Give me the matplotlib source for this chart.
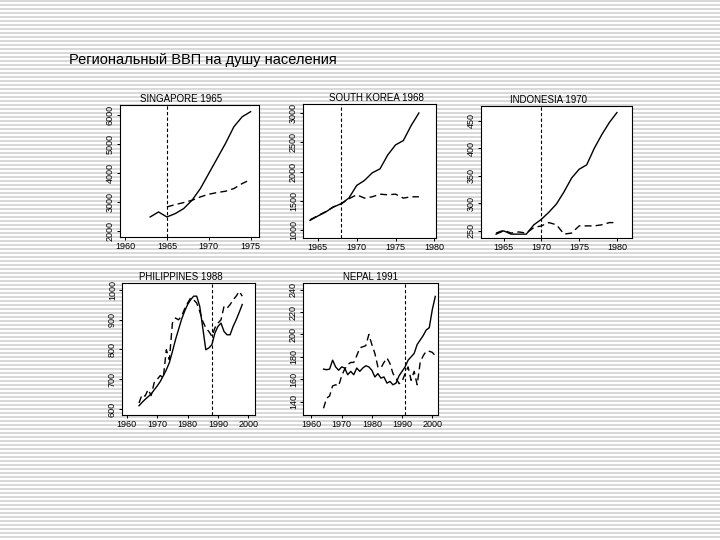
import matplotlib.pyplot as plt
import numpy as np
from matplotlib.patches import Rectangle

plt.rcParams['font.family'] = ['Liberation Sans', 'DejaVu Sans']

#--------------------Data--------------------
title_main = "Региональный ВВП на душу населения"

sg_years = np.arange(1963, 1976)
sg_actual = [2484, 2657, 2484, 2600, 2772, 3060, 3464, 3983, 4501, 5020, 5596, 5942, 6115]
sg_synth_years = np.arange(1965, 1976)
sg_synth = [2830, 2910, 2980, 3060, 3176, 3268, 3326, 3372, 3464, 3637, 3775]

kr_years = np.arange(1964, 1979)
kr_actual = [1170, 1244, 1312, 1397, 1453, 1550, 1765, 1850, 1980, 2048, 2286, 2456, 2530, 2785, 3000]
kr_synth = [1180, 1250, 1318, 1400, 1450, 1538, 1606, 1550, 1572, 1617, 1606, 1617, 1550, 1572, 1572]

id_years = np.arange(1964, 1981)
id_actual = [244, 250, 244, 244, 244, 261, 271, 284, 299, 321, 346, 362, 370, 400, 425, 447, 465]
id_synth = [246, 251, 246, 248, 246, 256, 259, 265, 261, 244, 246, 259, 259, 259, 261, 265, 265]

ph_years = np.arange(1964, 1999)
ph_actual = [612, 623, 633, 642, 651, 665, 678, 693, 712, 732, 756, 793, 832, 866, 900,
             927, 950, 966, 978, 978, 944, 872, 799, 805, 816, 855, 877, 888, 860, 849,
             849, 877, 899, 924, 950]
ph_synth = [621, 649, 644, 666, 646, 689, 700, 713, 705, 799, 766, 888, 905, 899, 911,
            935, 955, 972, 966, 955, 927, 894, 872, 860, 844, 872, 888, 899, 944, 938,
            950, 966, 978, 994, 978]

np_years = np.arange(1964, 2002)
np_actual = [169, 168.5, 169, 177, 171, 168, 171, 170, 164, 167, 164, 170, 167, 170, 172,
             171, 168, 162, 165, 161, 162, 156.5, 158, 155, 156.5, 163, 167, 171, 177, 180,
             183, 191, 195, 199, 204, 206, 222, 234]
np_synth = [134, 143, 145, 154, 155, 154, 163, 169, 173, 175, 175, 181, 188, 189, 190,
            200, 191, 183, 171, 170, 175, 179, 174, 165, 161, 156, 158, 165, 171, 159,
            167, 155, 175, 181, 185, 185, 184, 181]

#====================Layout helpers====================
W, H = 720, 540
fig = plt.figure(figsize=(7.2, 5.4), dpi=100)

# striped slide background
bg = fig.add_axes([0, 0, 1, 1])
bg.set_xlim(0, W)
bg.set_ylim(H, 0)
bg.axis('off')
bg.hlines(np.arange(1, H, 4), 0, W, color='#d6d6d6', linewidth=1.3)
bg.add_patch(Rectangle((48, 30), 634, 477, facecolor='white', edgecolor='none'))

fig.text(69 / W, 1 - 64 / H, title_main, fontsize=10.5, va='baseline', ha='left')


def panel(box, title, title_x, x_act, y_act, x_syn, y_syn, treat, xlim, ylim, xticks, yticks):
    l, r, t, b = box
    ax = fig.add_axes([l / W, 1 - b / H, (r - l) / W, (b - t) / H])
    ax.plot(x_act, y_act, color='black', linewidth=1.0)
    ax.plot(x_syn, y_syn, color='black', linewidth=1.0, linestyle=(0, (5, 3)))
    ax.axvline(treat, color='black', linewidth=0.8, linestyle=(0, (3, 2)))
    ax.set_xlim(*xlim)
    ax.set_ylim(*ylim)
    ax.set_xticks(xticks)
    ax.set_yticks(yticks)
    ax.set_yticklabels([str(v) for v in yticks], rotation=90, va='center')
    ax.tick_params(axis='both', direction='out', length=2.5, width=0.7,
                   labelsize=6.5, pad=1.2)
    for s in ax.spines.values():
        s.set_linewidth(0.8)
    ax.set_title(title, fontsize=7, pad=2, x=title_x)
    return ax


panel((120, 259, 105, 237), "SINGAPORE 1965", 0.44, sg_years, sg_actual, sg_synth_years, sg_synth,
      1965, (1959.4, 1976.0), (1793, 6346), [1960, 1965, 1970, 1975],
      [2000, 3000, 4000, 5000, 6000])

panel((303, 436, 104, 238), "SOUTH KOREA 1968", 0.55, kr_years, kr_actual, kr_years, kr_synth,
      1968, (1963.1, 1980.2), (870, 3153), [1965, 1970, 1975, 1980],
      [1000, 1500, 2000, 2500, 3000])

panel((481, 632, 106, 238), "INDONESIA 1970", 0.45, id_years, id_actual, id_years, id_synth,
      1970, (1962.0, 1982.0), (237, 477), [1965, 1970, 1975, 1980],
      [250, 300, 350, 400, 450])

panel((122, 255, 283, 415), "PHILIPPINES 1988", 0.44, ph_years, ph_actual, ph_years, ph_synth,
      1988, (1958.4, 2002.2), (581, 1022), [1960, 1970, 1980, 1990, 2000],
      [600, 700, 800, 900, 1000])

panel((303, 438, 283, 415), "NEPAL 1991", 0.5, np_years, np_actual, np_years, np_synth,
      1991, (1957.2, 2001.9), (128, 246), [1960, 1970, 1980, 1990, 2000],
      [140, 160, 180, 200, 220, 240])

fig.savefig("out.png", dpi=100)
